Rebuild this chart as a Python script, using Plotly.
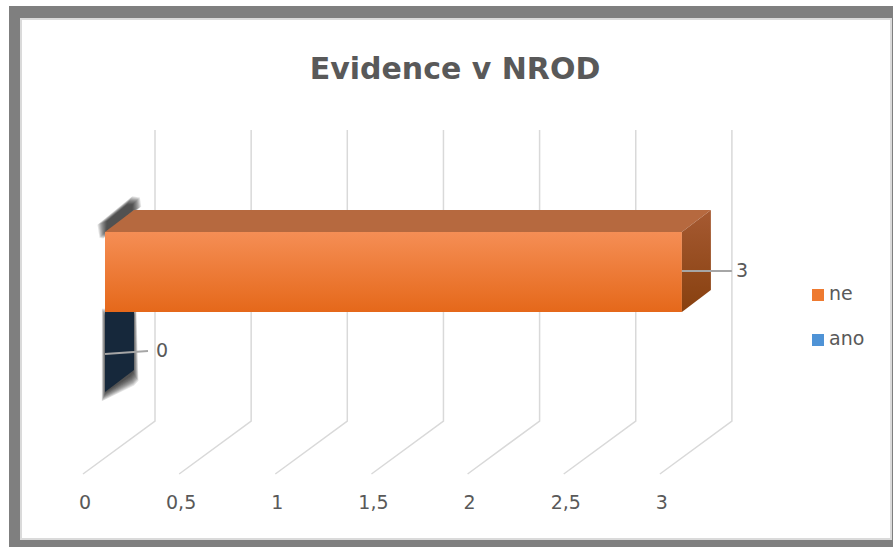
import plotly.graph_objects as go

# ---- data ----
series_names = ["ano", "ne"]
series_values = [0, 3]
tick_values = [0, 0.5, 1, 1.5, 2, 2.5, 3]
tick_labels = ["0", "0,5", "1", "1,5", "2", "2,5", "3"]
legend_colors = ["#4f93d6", "#ee7a30"]

# ---- geometry of the pseudo-3D scene (pixels) ----
W, H = 893, 547
X0_PX = 105.0          # value 0 on the front plane
PX_PER_UNIT = 192.3    # pixels per value unit
DEPTH_DX, DEPTH_DY = 29.0, -22.0   # bar depth (right, up)
BACK_DX = 50.0         # back wall offset of the grid
FLOOR_DX, FLOOR_DY = -72.0, 53.0   # floor diagonal of grid lines
GRID_TOP, GRID_BOTTOM = 130.0, 421.0
BAR_TOP, BAR_H = 232.0, 80.0
TEXT = "#595959"
FONT = "DejaVu Sans"


def u(px):
    """pixel distance -> value units"""
    return px / PX_PER_UNIT


fig = go.Figure()

# grid lines on the back wall, folding onto the floor
gx, gy = [], []
for v in tick_values:
    xb = v + u(BACK_DX)
    gx += [xb, xb, xb + u(FLOOR_DX), None]
    gy += [GRID_TOP, GRID_BOTTOM, GRID_BOTTOM + FLOOR_DY, None]
fig.add_trace(go.Scatter(x=gx, y=gy, mode="lines", hoverinfo="skip",
                         line=dict(color="#d9d9d9", width=1.5), showlegend=False))

# tick labels below the floor
fig.add_trace(go.Scatter(
    x=[v + u(BACK_DX + FLOOR_DX + 2) for v in tick_values],
    y=[504] * len(tick_values), mode="text", text=tick_labels,
    textfont=dict(family=FONT, size=19, color=TEXT), hoverinfo="skip",
    showlegend=False))


def soft_shadow(pts, layers=8, step=1.0, alpha=0.11):
    cx = sum(p[0] for p in pts) / len(pts)
    cy = sum(p[1] for p in pts) / len(pts)
    for k in range(layers, -3, -1):
        xs, ys = [], []
        for (px, py) in pts:
            dx, dy = px - cx, py - cy
            n = (dx * dx + dy * dy) ** 0.5 or 1.0
            xs.append(u(px - X0_PX + dx / n * k * step))
            ys.append(py + dy / n * k * step)
        xs.append(xs[0]); ys.append(ys[0])
        fig.add_trace(go.Scatter(x=xs, y=ys, mode="lines", fill="toself",
                                 fillcolor=f"rgba(15,15,15,{alpha})",
                                 line=dict(width=0, color="rgba(0,0,0,0)"),
                                 hoverinfo="skip", showlegend=False))


def poly(xs, ys, color=None, grad=None):
    xs = list(xs) + [xs[0]]
    ys = list(ys) + [ys[0]]
    kw = dict(x=xs, y=ys, mode="lines", fill="toself",
              line=dict(width=0, color="rgba(0,0,0,0)"),
              hoverinfo="skip", showlegend=False)
    if grad:
        kw["fillgradient"] = dict(type="vertical", start=grad[0], stop=grad[1],
                                  colorscale=[[0, grad[2]], [1, grad[3]]])
    else:
        kw["fillcolor"] = color
    fig.add_trace(go.Scatter(**kw))


dx, dy = u(DEPTH_DX), DEPTH_DY

# bar shadows
soft_shadow([(105, 232), (105, 222), (128, 203), (134, 203), (134, 210), (108, 232)])
soft_shadow([(105, 316), (105, 394), (131, 378), (134, 374), (134, 316)])

# bars: "ne" on top, "ano" below
for i, (name, v) in enumerate(zip(series_names, series_values)):
    top = BAR_TOP + (len(series_names) - 1 - i) * BAR_H
    bot = top + BAR_H
    if name == "ano":
        # only the side face is visible for a zero-length bar
        poly([v, v + dx, v + dx, v], [top, top + dy, bot + dy, bot], color="#16283b")
    else:
        poly([0, v, v, 0], [top, top, bot, bot],
             grad=(top, bot, "#f58e55", "#e5681a"))
        poly([0, v, v + dx, dx], [top, top, top + dy, top + dy], color="#b6693f")
        poly([v, v + dx, v + dx, v], [top, top + dy, bot + dy, bot],
             grad=(top + dy, bot, "#a65a32", "#87400f"))

# data labels with leader lines
for i, (name, v) in enumerate(zip(series_names, series_values)):
    top = BAR_TOP + (len(series_names) - 1 - i) * BAR_H
    yc = top + BAR_H / 2
    if name == "ano":
        lx, ly = [v, v + u(43)], [yc + 2, yc - 1]
        tx = v + u(51)
    else:
        lx, ly = [v, v + u(50)], [yc - 1, yc - 1]
        tx = v + u(54)
    fig.add_trace(go.Scatter(x=lx, y=ly, mode="lines", hoverinfo="skip",
                             line=dict(color="#a6a6a6", width=2), showlegend=False))
    fig.add_trace(go.Scatter(x=[tx], y=[yc], mode="text", text=[str(v)],
                             textposition="middle right",
                             textfont=dict(family=FONT, size=19, color=TEXT),
                             hoverinfo="skip", showlegend=False))

# legend (ne first, then ano)
leg_order = [1, 0]
leg_y = [295, 340]
fig.add_trace(go.Scatter(
    x=[u(818 - X0_PX)] * 2, y=leg_y, mode="markers",
    marker=dict(symbol="square", size=12, color=[legend_colors[k] for k in leg_order],
                line=dict(width=0)),
    hoverinfo="skip", showlegend=False))
fig.add_trace(go.Scatter(
    x=[u(829 - X0_PX)] * 2, y=leg_y, mode="text",
    text=[series_names[k] for k in leg_order], textposition="middle right",
    textfont=dict(family=FONT, size=19, color=TEXT),
    hoverinfo="skip", showlegend=False))

fig.update_layout(
    width=W, height=H,
    margin=dict(l=0, r=0, t=0, b=0),
    paper_bgcolor="white", plot_bgcolor="rgba(0,0,0,0)",
    showlegend=False,
    title=dict(text="<b>Evidence v NROD</b>", x=455 / W, y=1 - 68 / H,
               xanchor="center", yanchor="middle",
               font=dict(family=FONT, size=30, color=TEXT)),
    xaxis=dict(range=[u(-X0_PX), u(W - X0_PX)], visible=False, fixedrange=True),
    yaxis=dict(range=[H, 0], visible=False, fixedrange=True),
    shapes=[
        dict(type="rect", xref="paper", yref="paper", layer="below",
             x0=9 / W, x1=1, y0=0, y1=1 - 6 / H,
             fillcolor="#7f7f7f", line=dict(width=0)),
        dict(type="rect", xref="paper", yref="paper", layer="below",
             x0=21 / W, x1=891 / W, y0=1 - 539 / H, y1=1 - 19 / H,
             fillcolor="white", line=dict(color="#dadada", width=2)),
    ],
)

fig.write_html("out.html")
